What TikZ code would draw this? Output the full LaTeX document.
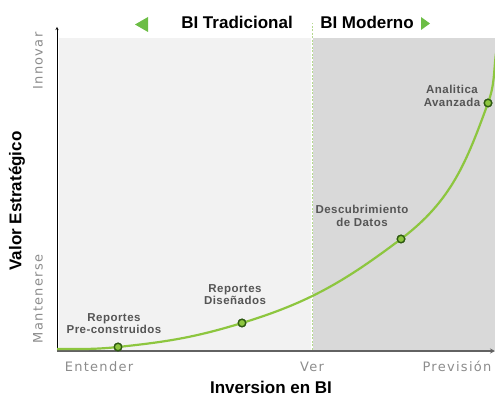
\documentclass[tikz,border=0pt]{standalone}
\usepackage{fontspec}
\setmainfont{Liberation Sans}
\newfontfamily\escfont[LetterSpace=10]{DejaVu Sans}
\newfontfamily\etiqfont[LetterSpace=4]{Liberation Sans}
\usetikzlibrary{arrows, positioning}

\definecolor{fondoA}{HTML}{F2F2F2}
\definecolor{fondoB}{HTML}{D9D9D9}
\definecolor{curva}{HTML}{8DC63F}
\definecolor{hitoborde}{HTML}{2E5A12}
\definecolor{flecha}{HTML}{6CBD45}
\definecolor{guia}{HTML}{B5D98F}
\definecolor{texto}{HTML}{555555}
\definecolor{gris}{HTML}{8C8C8C}

\begin{document}
\begin{tikzpicture}[
        x=1pt, y=1pt,
        >=stealth,
        semithick,
        node distance=6pt,
        hito/.style={circle, draw=hitoborde, fill=curva, line width=1.3pt,
                     inner sep=0pt, minimum size=7.5pt},
        etiqueta/.style={align=center, text=texto,
                         font=\etiqfont\bfseries\fontsize{11.5}{12.5}\selectfont},
        escala/.style={text=gris, font=\escfont\fontsize{13}{15}\selectfont},
        titulo/.style={font=\bfseries\fontsize{17}{19}\selectfont}]

    \useasboundingbox (0,0) rectangle (495,398);

    % zonas
    \fill [fondoA] (59,48) rectangle (311,360);
    \fill [fondoB] (313,48) rectangle (495,360);
    \draw [guia, line width=1pt, dash pattern=on 2pt off 1.5pt] (312,48) -- (312,375);

    % ejes
    \coordinate (o)    at (57,47);
    \coordinate (ytop) at (57,371);
    \coordinate (xend) at (495,47);
    \draw [->, thin, black] (o) -- (ytop);
    \draw [->, gris!70!black, line width=1.2pt] (o) -- (xend);

    % hitos
    \coordinate (c0) at (57,49);
    \node [hito] (p1) at (118,51)  {};
    \node [hito] (p2) at (242,75)  {};
    \node [hito] (p3) at (401,159) {};
    \node [hito] (p4) at (488,295) {};
    \coordinate (c5) at (496,345);

    \draw [curva, line width=2.2pt]
        (c0) to [out=0, in=186] (p1.center)
             to [out=6, in=197] (p2.center)
             to [out=17, in=217] (p3.center)
             to [out=37, in=250] (p4.center)
             to [out=70, in=263] (c5);
    \foreach \h in {p1,p2,p3,p4}
        \node [hito] at (\h) {};

    \node [etiqueta] (e1) [above=5pt of p1, xshift=-4pt] {Reportes\\Pre-construidos};
    \node [etiqueta] (e2) [above=10pt of p2, xshift=-7pt] {Reportes\\Diseñados};
    \node [etiqueta] (e3) at (362,182) {Descubrimiento\\de Datos};
    \node [etiqueta] (e4) at (452,302) {Analitica\\Avanzada};

    % encabezado
    \node [titulo] (bt) at (237,376) {BI Tradicional};
    \node [titulo] (bm) at (367,376) {BI Moderno};
    \fill [flecha] (135,373.5) -- (148,381) -- (148,366) -- cycle;
    \fill [flecha] (430,374.5) -- (421,381) -- (421,368) -- cycle;

    % ejes: textos
    \node [escala, anchor=base] (x1) at (99,26)  {Entender};
    \node [escala, anchor=base] (x2) at (312,26) {Ver};
    \node [escala, anchor=base] (x3) at (457,26) {Previsión};
    \node [titulo, anchor=base] (xl) at (271,4) {Inversion en BI};

    \node [escala, rotate=90] (y1) at (38,337) {Innovar};
    \node [escala, rotate=90] (y2) at (38,99)  {Mantenerse};
    \node [titulo, rotate=90] (yl) at (17,197) {Valor Estratégico};
\end{tikzpicture}
\end{document}
